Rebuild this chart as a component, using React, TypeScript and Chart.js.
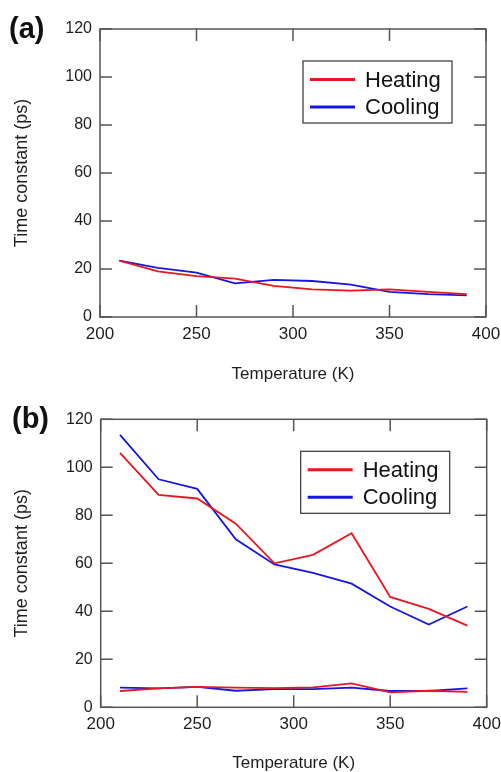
import React, { useEffect, useRef } from "react";
import { Chart, registerables } from "chart.js";

Chart.register(...registerables);

// ---------- data ----------
const temperatures = [210, 230, 250, 270, 290, 310, 330, 350, 370, 390];

// panel (a)
const heatingA = [23.5, 19, 17, 16, 13, 11.5, 11, 11.5, 10.5, 9.5];
const coolingA = [23.5, 20.5, 18.5, 14, 15.5, 15, 13.5, 10.5, 9.5, 9];

// panel (b) – slow and fast components
const heatingBSlow = [106, 88.5, 87, 76.5, 60, 63.5, 72.5, 46, 41, 34];
const coolingBSlow = [113.5, 95, 91, 70, 59.5, 56, 51.5, 42, 34.5, 42];
const heatingBFast = [6.8, 7.9, 8.5, 8.2, 8, 8.3, 10, 6.2, 6.9, 6.4];
const coolingBFast = [8.2, 7.9, 8.5, 6.9, 7.6, 7.6, 8.2, 6.8, 6.8, 7.9];

const xTickValues = [200, 250, 300, 350, 400];
const yTickValues = [0, 20, 40, 60, 80, 100, 120];

const legendLabels = ["Heating", "Cooling"];
const xTitle = "Temperature (K)";
const yTitle = "Time constant (ps)";

// ---------- styles ----------
const FONT = "'Liberation Sans', Arial, Helvetica, sans-serif";
const RED = "rgb(232,22,30)";
const BLUE = "rgb(22,22,228)";
const AXIS = "#555";
const TEXT = "#1e1e1e";

type PanelSpec = {
  label: string;
  labelX: number;
  labelY: number;
  width: number;
  height: number;
  padTop: number;
  padRight: number;
  yWidth: number;
  xHeight: number;
  xTitlePad: number;
  xTitleLineHeight: number;
  legendRightGap: number;
  legendTopGap: number;
  series: { label: string; values: number[]; color: string; inLegend: boolean }[];
};

function makeDecorPlugin(spec: PanelSpec) {
  return {
    id: "decor" + spec.label,
    afterDatasetsDraw(chart: any) {
      const { ctx, chartArea: a, scales } = chart;
      const xs = scales.x;
      const ys = scales.y;
      ctx.save();
      // frame
      ctx.strokeStyle = AXIS;
      ctx.lineWidth = 1.5;
      ctx.strokeRect(a.left, a.top, a.right - a.left, a.bottom - a.top);
      // inward ticks on all four sides
      const len = 12;
      ctx.beginPath();
      xs.ticks.forEach((t: any) => {
        const px = xs.getPixelForValue(t.value);
        ctx.moveTo(px, a.bottom);
        ctx.lineTo(px, a.bottom - len);
        ctx.moveTo(px, a.top);
        ctx.lineTo(px, a.top + len);
      });
      ys.ticks.forEach((t: any) => {
        const py = ys.getPixelForValue(t.value);
        ctx.moveTo(a.left, py);
        ctx.lineTo(a.left + len, py);
        ctx.moveTo(a.right, py);
        ctx.lineTo(a.right - len, py);
      });
      ctx.stroke();

      // legend box
      const items = chart.data.datasets.filter((d: any) => d.inLegend);
      const bw = 149;
      const bh = 62;
      const bx = a.right - spec.legendRightGap - bw;
      const by = a.top + spec.legendTopGap;
      ctx.fillStyle = "#fff";
      ctx.fillRect(bx, by, bw, bh);
      ctx.strokeStyle = "#333";
      ctx.lineWidth = 1.2;
      ctx.strokeRect(bx, by, bw, bh);
      ctx.font = `22px ${FONT}`;
      ctx.textBaseline = "middle";
      ctx.textAlign = "left";
      items.forEach((d: any, i: number) => {
        const ly = by + 18.5 + i * 27.5;
        ctx.strokeStyle = d.borderColor;
        ctx.lineWidth = 3;
        ctx.beginPath();
        ctx.moveTo(bx + 7, ly);
        ctx.lineTo(bx + 52, ly);
        ctx.stroke();
        ctx.fillStyle = "#111";
        ctx.fillText(d.label, bx + 62, ly + 1);
      });

      // panel label
      ctx.font = `bold 29px ${FONT}`;
      ctx.fillStyle = "#111";
      ctx.textBaseline = "middle";
      ctx.textAlign = "left";
      ctx.fillText(spec.label, spec.labelX, spec.labelY);
      ctx.restore();
    },
  };
}

function Panel({ spec, top }: { spec: PanelSpec; top: number }) {
  const ref = useRef<HTMLCanvasElement | null>(null);
  useEffect(() => {
    if (!ref.current) return;
    const chart = new Chart(ref.current, {
      type: "line",
      data: {
        datasets: spec.series.map((s) => ({
          label: s.label,
          data: temperatures.map((t, i) => ({ x: t, y: s.values[i] })),
          borderColor: s.color,
          backgroundColor: s.color,
          borderWidth: 1.8,
          pointRadius: 0,
          tension: 0,
          fill: false,
          inLegend: s.inLegend,
        })) as any,
      },
      options: {
        responsive: false,
        animation: false,
        layout: {
          padding: { left: 0, top: spec.padTop, right: spec.padRight, bottom: 0 },
        },
        plugins: {
          legend: { display: false },
          tooltip: { enabled: false },
        },
        scales: {
          x: {
            type: "linear",
            min: 200,
            max: 400,
            afterBuildTicks: (s: any) => {
              s.ticks = xTickValues.map((v) => ({ value: v }));
            },
            afterFit: (s: any) => {
              s.height = spec.xHeight;
              s.paddingLeft = 0;
              s.paddingRight = 0;
            },
            grid: { display: false, drawTicks: false },
            border: { display: false },
            ticks: {
              padding: 7,
              color: TEXT,
              font: { family: FONT, size: 17 },
              maxRotation: 0,
            },
            title: {
              display: true,
              text: xTitle,
              color: TEXT,
              font: { family: FONT, size: 17, lineHeight: spec.xTitleLineHeight },
              padding: { top: 0, bottom: spec.xTitlePad },
            },
          },
          y: {
            type: "linear",
            min: 0,
            max: 120,
            afterBuildTicks: (s: any) => {
              s.ticks = yTickValues.map((v) => ({ value: v }));
            },
            afterFit: (s: any) => {
              s.width = spec.yWidth;
              s.paddingTop = 0;
              s.paddingBottom = 0;
            },
            grid: { display: false, drawTicks: false },
            border: { display: false },
            ticks: {
              padding: 8,
              color: TEXT,
              font: { family: FONT, size: 16 },
            },
            title: {
              display: true,
              text: yTitle,
              color: TEXT,
              font: { family: FONT, size: 18, lineHeight: 1.2 },
              padding: { top: 11, bottom: 0 },
            },
          },
        },
      },
      plugins: [makeDecorPlugin(spec)],
    });
    return () => chart.destroy();
  }, [spec]);
  return (
    <div style={{ position: "absolute", left: 0, top, width: spec.width, height: spec.height }}>
      <canvas
        ref={ref}
        width={spec.width}
        height={spec.height}
        style={{ display: "block", width: spec.width, height: spec.height }}
      />
    </div>
  );
}

const panelA: PanelSpec = {
  label: "(a)",
  labelX: 9,
  labelY: 30,
  width: 501,
  height: 390,
  padTop: 29,
  padRight: 15,
  yWidth: 100,
  xHeight: 73,
  xTitlePad: 5,
  xTitleLineHeight: 1.2,
  legendRightGap: 34,
  legendTopGap: 32,
  series: [
    { label: legendLabels[0], values: heatingA, color: RED, inLegend: true },
    { label: legendLabels[1], values: coolingA, color: BLUE, inLegend: true },
  ],
};

const panelB: PanelSpec = {
  label: "(b)",
  labelX: 12,
  labelY: 30,
  width: 501,
  height: 382,
  padTop: 29.3,
  padRight: 14.3,
  yWidth: 100.7,
  xHeight: 64.7,
  xTitlePad: 0,
  xTitleLineHeight: 1.0,
  legendRightGap: 37,
  legendTopGap: 32,
  series: [
    { label: legendLabels[0], values: heatingBSlow, color: RED, inLegend: true },
    { label: legendLabels[1], values: coolingBSlow, color: BLUE, inLegend: true },
    { label: legendLabels[0] + " (fast)", values: heatingBFast, color: RED, inLegend: false },
    { label: legendLabels[1] + " (fast)", values: coolingBFast, color: BLUE, inLegend: false },
  ],
};

export default function App() {
  return (
    <div
      style={{
        position: "absolute",
        left: 0,
        top: 0,
        width: 501,
        height: 772,
        background: "#fff",
        overflow: "hidden",
      }}
    >
      <Panel spec={panelA} top={0} />
      <Panel spec={panelB} top={390} />
    </div>
  );
}
